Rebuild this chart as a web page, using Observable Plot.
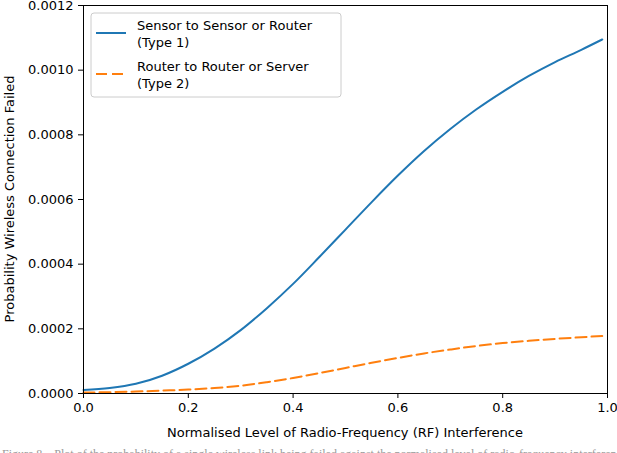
<!DOCTYPE html>
<html>
<head>
<meta charset="utf-8">
<script src="https://cdn.jsdelivr.net/npm/d3@7"></script>
<script src="https://cdn.jsdelivr.net/npm/@observablehq/plot@0.6"></script>
<style>
  html, body { margin: 0; padding: 0; background: #fff; overflow: hidden; }
  #caption { font-family: "Liberation Serif", serif; font-size: 12px; color: #999; white-space: nowrap; margin: 2px 0 0 2px; }
</style>
</head>
<body>
<div id="chart"></div>
<div id="caption">Figure 8.&nbsp;&nbsp; Plot of the probability of a single wireless link being failed against the normalised level of radio-frequency interference</div>
<script>
// Normalised RF interference level
const xs = [0.00, 0.05, 0.10, 0.15, 0.20, 0.25, 0.30, 0.35, 0.40, 0.45, 0.50,
            0.55, 0.60, 0.65, 0.70, 0.75, 0.80, 0.85, 0.90, 0.95, 0.99];
// Type 1: Sensor to Sensor or Router
const type1 = [0.000011, 0.000017, 0.000030, 0.000055, 0.000092, 0.000139, 0.000196,
               0.000264, 0.000339, 0.000422, 0.000507, 0.000592, 0.000674, 0.000750,
               0.000818, 0.000879, 0.000933, 0.000982, 0.001025, 0.001063, 0.001095];
// Type 2: Router to Router or Server
const type2 = [0.000003, 0.000004, 0.000006, 0.000009, 0.000012, 0.000017, 0.000024,
               0.000035, 0.000048, 0.000063, 0.000079, 0.000095, 0.000110, 0.000124,
               0.000136, 0.000147, 0.000156, 0.000163, 0.000169, 0.000174, 0.000178];

const seriesNames = ["Sensor to Sensor or Router\n(Type 1)", "Router to Router or Server\n(Type 2)"];
const seriesColors = ["#1f77b4", "#ff7f0e"];
const xTicks = [0, 0.2, 0.4, 0.6, 0.8, 1.0];
const yTicks = [0, 0.0002, 0.0004, 0.0006, 0.0008, 0.0010, 0.0012];
const xLabel = "Normalised Level of Radio-Frequency (RF) Interference";
const yLabel = "Probability Wireless Connection Failed";

const rows1 = xs.map((x, i) => ({x, y: type1[i]}));
const rows2 = xs.map((x, i) => ({x, y: type2[i]}));

const W = 617, H = 445;
const mL = 83, mR = 10, mT = 5, mB = 52;

const chart = Plot.plot({
  width: W, height: H,
  marginLeft: mL, marginRight: mR, marginTop: mT, marginBottom: mB,
  style: { fontFamily: "DejaVu Sans, sans-serif", fontSize: "13px", color: "#000", background: "#fff", overflow: "visible" },
  x: { domain: [0, 1], ticks: xTicks, tickFormat: d3.format(".1f"), label: null, tickSize: 5, tickPadding: 4 },
  y: { domain: [0, 0.0012], ticks: yTicks, tickFormat: d3.format(".4f"), label: null, tickSize: 5, tickPadding: 5 },
  marks: [
    Plot.lineY(rows1, { x: "x", y: "y", stroke: seriesColors[0], strokeWidth: 2, curve: "monotone-x" }),
    Plot.lineY(rows2, { x: "x", y: "y", stroke: seriesColors[1], strokeWidth: 2, strokeDasharray: "11,5", curve: "monotone-x" }),
    Plot.frame({ stroke: "#000", strokeWidth: 1 })
  ]
});

document.getElementById("chart").appendChild(chart);

const svg = d3.select(chart);
const font = "DejaVu Sans, sans-serif";

// Axis labels
svg.append("text")
  .attr("x", mL + (W - mL - mR) / 2).attr("y", 437)
  .attr("text-anchor", "middle").attr("font-family", font).attr("font-size", 13).attr("fill", "#000")
  .text(xLabel);
svg.append("text")
  .attr("transform", `translate(14,${mT + (H - mT - mB) / 2}) rotate(-90)`)
  .attr("text-anchor", "middle").attr("font-family", font).attr("font-size", 13).attr("fill", "#000")
  .text(yLabel);

// Legend
const lg = svg.append("g").attr("text-anchor", "start");
lg.append("rect").attr("x", 91).attr("y", 13).attr("width", 250).attr("height", 84).attr("rx", 3)
  .attr("fill", "#fff").attr("fill-opacity", 0.8).attr("stroke", "#ccc");
const entryY = [33, 74];
seriesNames.forEach((name, i) => {
  lg.append("line").attr("x1", 96).attr("x2", 126).attr("y1", entryY[i]).attr("y2", entryY[i])
    .attr("stroke", seriesColors[i]).attr("stroke-width", 2)
    .attr("stroke-dasharray", i === 1 ? "11,5" : null);
  const lines = name.split("\n");
  lines.forEach((t, j) => {
    lg.append("text").attr("x", 137).attr("y", entryY[i] - 3 + j * 16.5)
      .attr("text-anchor", "start")
      .attr("font-family", font).attr("font-size", 13).attr("fill", "#000").text(t);
  });
});
</script>
</body>
</html>
